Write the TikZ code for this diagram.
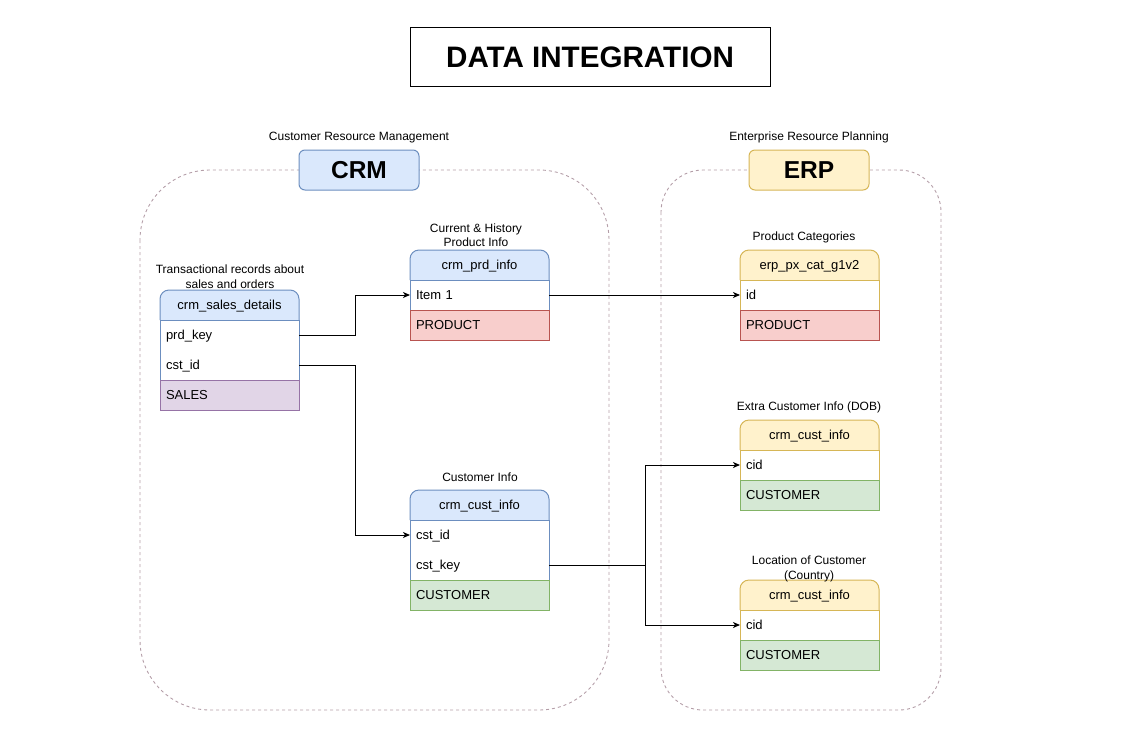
\documentclass[tikz,border=0pt]{standalone}
\usepackage{fontspec}
\setmainfont{Liberation Sans}
\usetikzlibrary{arrows.meta}
\definecolor{blueF}{HTML}{DAE8FC}
\definecolor{blueD}{HTML}{6C8EBF}
\definecolor{yellowF}{HTML}{FFF2CC}
\definecolor{yellowD}{HTML}{D6B656}
\definecolor{redF}{HTML}{F8CECC}
\definecolor{redD}{HTML}{B85450}
\definecolor{greenF}{HTML}{D5E8D4}
\definecolor{greenD}{HTML}{82B366}
\definecolor{purpleF}{HTML}{E1D5E7}
\definecolor{purpleD}{HTML}{9673A6}
\definecolor{contD}{RGB}{180,158,168}
\tikzset{
  container/.style={draw=contD, dash pattern=on 3pt off 3pt, line width=0.9pt},
  titlebox/.style={draw=black, minimum width=360pt, minimum height=59pt, inner sep=0pt,
    font=\bfseries\fontsize{29.6}{34}\selectfont, text height=21.2pt, text depth=0pt},
  grp/.style={rounded corners=6pt, minimum width=120pt, minimum height=40pt, inner sep=0pt,
    font=\bfseries\fontsize{24.5}{29}\selectfont, text height=17.5pt, text depth=0pt},
  captext/.style={font=\fontsize{12}{14.5}\selectfont, align=center, inner sep=0pt},
  hdrtxt/.style={font=\fontsize{13}{15}\selectfont, inner sep=0pt, text height=9.3pt, text depth=0pt},
  row/.style={anchor=north west, minimum height=30pt, text width=127pt, inner xsep=6pt,
    inner ysep=0pt, outer sep=0pt, align=left, font=\fontsize{13}{15}\selectfont,
    text height=9.3pt, text depth=0pt},
  conn/.style={draw=black, line width=1pt, -{Stealth[length=7pt,width=6pt,inset=2pt]}},
}
\newcommand\tblhead[6]{%
  \filldraw[fill=#4, draw=#5, rounded corners=9pt] (#2,#3+30) -- (#2,#3) -- (#2+139,#3) -- (#2+139,#3+30);
  \node[hdrtxt] (#1) at (#2+69.5,#3+15) {#6};}
\newcommand\tblbody[4]{%
  \filldraw[fill=white, draw=#4] (#1,#2) rectangle (#1+139,#2+30*#3);}
\begin{document}
\begin{tikzpicture}[x=1pt,y=-1pt,line width=1pt]
\useasboundingbox (0,0) rectangle (1140,750);
% containers
\draw[container, rounded corners=70pt] (140,170) rectangle (609,710);
\draw[container, rounded corners=42pt] (661,170) rectangle (941,710);
% title
\node[titlebox] (title) at (590,56.5) {DATA INTEGRATION};
% group labels
\node[grp, fill=blueF, draw=blueD] (crm) at (359,170) {CRM};
\node[captext] (crmcap) at (359,137.5) {Customer Resource Management};
\node[grp, fill=yellowF, draw=yellowD] (erp) at (809,170) {ERP};
\node[captext] (erpcap) at (809,137.5) {Enterprise Resource Planning};
% T1 crm_sales_details
\node[captext] (t1cap) at (230,276.5) {Transactional records about\\sales and orders};
\tblhead{t1h}{160}{290}{blueF}{blueD}{crm\_sales\_details}
\tblbody{160}{320}{2}{blueD}
\node[row] (t1r1) at (160,320) {prd\_key};
\node[row] (t1r2) at (160,350) {cst\_id};
\node[row, fill=purpleF, draw=purpleD] (t1f) at (160,380) {SALES};
% T2 crm_prd_info
\node[captext] (t2cap) at (476,235) {Current \& History\\Product Info};
\tblhead{t2h}{410}{250}{blueF}{blueD}{crm\_prd\_info}
\tblbody{410}{280}{1}{blueD}
\node[row] (t2r1) at (410,280) {Item 1};
\node[row, fill=redF, draw=redD] (t2f) at (410,310) {PRODUCT};
% T3 crm_cust_info
\node[captext] (t3cap) at (480,477.5) {Customer Info};
\tblhead{t3h}{410}{490}{blueF}{blueD}{crm\_cust\_info}
\tblbody{410}{520}{2}{blueD}
\node[row] (t3r1) at (410,520) {cst\_id};
\node[row] (t3r2) at (410,550) {cst\_key};
\node[row, fill=greenF, draw=greenD] (t3f) at (410,580) {CUSTOMER};
% T4 erp_px_cat_g1v2
\node[captext] (t4cap) at (804,237.5) {Product Categories};
\tblhead{t4h}{740}{250}{yellowF}{yellowD}{erp\_px\_cat\_g1v2}
\tblbody{740}{280}{1}{yellowD}
\node[row] (t4r1) at (740,280) {id};
\node[row, fill=redF, draw=redD] (t4f) at (740,310) {PRODUCT};
% T5 crm_cust_info (ERP)
\node[captext] (t5cap) at (809,407.5) {Extra Customer Info (DOB)};
\tblhead{t5h}{740}{420}{yellowF}{yellowD}{crm\_cust\_info}
\tblbody{740}{450}{1}{yellowD}
\node[row] (t5r1) at (740,450) {cid};
\node[row, fill=greenF, draw=greenD] (t5f) at (740,480) {CUSTOMER};
% T6 crm_cust_info (ERP)
\tblhead{t6h}{740}{580}{yellowF}{yellowD}{crm\_cust\_info}
\tblbody{740}{610}{1}{yellowD}
\node[row] (t6r1) at (740,610) {cid};
\node[row, fill=greenF, draw=greenD] (t6f) at (740,640) {CUSTOMER};
\node[captext] (t6cap) at (809,569) {Location of Customer\\(Country)};
% connectors
\draw[conn] (t1r1.east) -- ++(56,0) |- (t2r1.west);
\draw[conn] (t1r2.east) -- ++(56,0) |- (t3r1.west);
\draw[conn] (t2r1.east) -- (t4r1.west);
\draw[conn] (t3r2.east) -- ++(96,0) |- (t5r1.west);
\draw[conn] (t3r2.east) -- ++(96,0) |- (t6r1.west);
\end{tikzpicture}
\end{document}
